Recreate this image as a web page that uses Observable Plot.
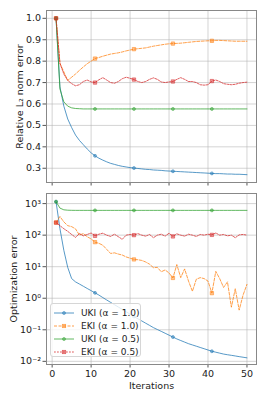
<!DOCTYPE html>
<html><head><meta charset="utf-8">
<script src="https://cdn.jsdelivr.net/npm/d3@7"></script>
<script src="https://cdn.jsdelivr.net/npm/@observablehq/plot@0.6"></script>
<style>
body{margin:0;background:#fff;}
#wrap{position:relative;width:266px;height:399px;font-family:"DejaVu Sans";}
#legend{position:absolute;left:50px;top:303px;width:91px;height:54px;border:1px solid #d6d6d6;border-radius:3px;background:rgba(255,255,255,0.8);box-sizing:border-box;font-size:9px;color:#222;}
.row{position:absolute;left:3px;height:13px;display:flex;align-items:center;white-space:nowrap;}
.row svg{margin-right:7px;}
</style>
</head><body>
<div id="wrap"></div>
<script>
const iterations = [1,2,3,4,5,6,7,8,9,10,11,12,13,14,15,16,17,18,19,20,21,22,23,24,25,26,27,28,29,30,31,32,33,34,35,36,37,38,39,40,41,42,43,44,45,46,47,48,49,50];

// Relative L2 norm error
const ukiA1Rel = [1.0,0.68,0.59,0.53,0.49,0.455,0.43,0.41,0.39,0.372,0.358,0.347,0.338,0.33,0.323,0.318,0.313,0.309,0.306,0.303,0.301,0.299,0.297,0.295,0.294,0.292,0.291,0.29,0.288,0.287,0.286,0.285,0.284,0.283,0.282,0.281,0.28,0.279,0.278,0.277,0.276,0.275,0.275,0.274,0.273,0.273,0.272,0.272,0.271,0.27];
const ekiA1Rel = [1.0,0.79,0.75,0.71,0.725,0.74,0.757,0.773,0.788,0.80,0.812,0.817,0.823,0.828,0.833,0.836,0.839,0.843,0.848,0.852,0.856,0.858,0.860,0.862,0.866,0.870,0.873,0.876,0.879,0.881,0.882,0.883,0.884,0.886,0.888,0.890,0.892,0.893,0.894,0.895,0.895,0.897,0.897,0.896,0.895,0.894,0.893,0.893,0.893,0.893];
const ukiA05Rel = [1.0,0.67,0.61,0.59,0.582,0.579,0.578,0.577,0.577,0.577,0.577,0.577,0.577,0.577,0.577,0.577,0.577,0.577,0.577,0.577,0.577,0.577,0.577,0.577,0.577,0.577,0.577,0.577,0.577,0.577,0.577,0.577,0.577,0.577,0.577,0.577,0.577,0.577,0.577,0.577,0.577,0.577,0.577,0.577,0.577,0.577,0.577,0.577,0.577,0.577];
const ekiA05Rel = [1.0,0.79,0.74,0.71,0.695,0.685,0.69,0.705,0.712,0.703,0.70,0.713,0.723,0.712,0.70,0.697,0.705,0.718,0.725,0.72,0.714,0.705,0.70,0.705,0.715,0.722,0.715,0.703,0.70,0.703,0.705,0.715,0.723,0.715,0.705,0.705,0.70,0.69,0.688,0.69,0.707,0.712,0.705,0.695,0.692,0.69,0.692,0.697,0.70,0.702];

// Optimization error
const ukiA1Opt = [1150,160,33,9.5,4.2,3.3,2.82,2.40,2.04,1.74,1.48,1.26,1.05,0.881,0.741,0.624,0.525,0.442,0.372,0.313,0.263,0.224,0.191,0.162,0.138,0.117,0.102,0.0891,0.0776,0.0676,0.0589,0.0513,0.0457,0.0407,0.0363,0.0331,0.0302,0.0275,0.0251,0.0229,0.0209,0.0195,0.0182,0.0170,0.0162,0.0155,0.0148,0.0141,0.0135,0.0129];
const ekiA1Opt = [251,389,263,200,186,158,100,112,89,76,60,55,48,35.5,26.3,27.5,25.1,23.4,20.4,18.6,17,16.6,15.8,14.1,12,9.3,9.5,6.9,7.9,6.3,4.4,11.7,4.5,8.5,3.5,1.66,4.0,4.5,4.2,3.5,1.45,7.1,4.2,2.2,3.3,0.52,2.0,0.42,1.26,2.75];
const ukiA05Opt = [1150,720,635,618,612,610,610,610,610,610,610,610,610,610,610,610,610,610,610,610,610,610,610,610,610,610,610,610,610,610,610,610,610,610,610,610,610,610,610,610,610,610,610,610,610,610,610,610,610,610];
const ekiA05Opt = [250,200,160,132,105,85,112,95,105,117,95,107,115,100,91,107,89,74,100,105,100,112,100,93,105,83,100,107,93,115,91,110,100,93,107,100,91,105,100,107,102,117,100,105,95,100,83,102,105,100];

const seriesNames = ["UKI (α = 1.0)","EKI (α = 1.0)","UKI (α = 0.5)","EKI (α = 0.5)"];
const seriesColors = ["#1f77b4","#ff7f0e","#2ca02c","#d62728"];
const seriesDash = [null,"3,1.5",null,"1.8,1.2"];
const seriesSymbols = ["circle","square","circle","square"];

const xTicks = [0,10,20,30,40,50];
const relTicks = [0.3,0.4,0.5,0.6,0.7,0.8,0.9,1.0];
const optTicks = [0.01,0.1,1,10,100,1000];
const optTickLabels = ["10⁻²","10⁻¹","10⁰","10¹","10²","10³"];

function rows(arrays){
  const out = [];
  arrays.forEach((arr,s)=>arr.forEach((v,i)=>out.push({it:iterations[i], v, s})));
  return out;
}
const relData = rows([ukiA1Rel,ekiA1Rel,ukiA05Rel,ekiA05Rel]);
const optData = rows([ukiA1Opt,ekiA1Opt,ukiA05Opt,ekiA05Opt]);

function seriesMarks(data){
  const marks = [];
  for (let s=0;s<4;s++){
    const d = data.filter(r=>r.s===s);
    marks.push(Plot.line(d,{x:"it",y:"v",stroke:seriesColors[s],strokeWidth:1,strokeOpacity:0.75,strokeDasharray:seriesDash[s]}));
    marks.push(Plot.dot(d.filter(r=>r.it%10===1),{x:"it",y:"v",symbol:seriesSymbols[s],r:seriesSymbols[s]==="square"?1.9:1.5,fill:seriesColors[s],fillOpacity:0.45,stroke:seriesColors[s],strokeOpacity:0.7,strokeWidth:0.7}));
  }
  return marks;
}

const style = {fontFamily:"DejaVu Sans",fontSize:"9px",color:"#222",background:"transparent",overflow:"visible"};
const gridOpts = {stroke:"#b0b0b0",strokeOpacity:0.55,strokeWidth:1};

const topPlot = Plot.plot({
  width:266,height:190,marginLeft:46,marginRight:10,marginTop:10,marginBottom:8,
  style,
  x:{domain:[-1.45,52.45]},
  y:{domain:[0.2335,1.0365]},
  marks:[
    Plot.gridX(xTicks,gridOpts),
    Plot.gridY(relTicks,gridOpts),
    Plot.axisX(xTicks,{tickFormat:()=>"",tickSize:3.5,label:null,stroke:"#555"}),
    Plot.axisY(relTicks,{tickFormat:d3.format(".1f"),tickSize:3.5,tickPadding:2,stroke:"#555",fontSize:9.5,label:"Relative L₂ norm error",labelAnchor:"center",labelArrow:"none",labelOffset:30}),
    ...seriesMarks(relData),
    Plot.frame({stroke:"#888"})
  ]
});

const bottomPlot = Plot.plot({
  width:266,height:209,marginLeft:46,marginRight:10,marginTop:3,marginBottom:35,
  style,
  x:{domain:[-1.45,52.45]},
  y:{type:"log",domain:[0.00794,2089]},
  marks:[
    Plot.gridX(xTicks,gridOpts),
    Plot.gridY(optTicks,gridOpts),
    Plot.axisX(xTicks,{tickSize:3.5,tickPadding:2,stroke:"#555",fontSize:9.5,label:"Iterations",labelAnchor:"center",labelArrow:"none",labelOffset:24}),
    Plot.axisY(optTicks,{tickFormat:(d)=>optTickLabels[optTicks.indexOf(d)],tickSize:3.5,tickPadding:2,stroke:"#555",fontSize:9.5,label:"Optimization error",labelAnchor:"center",labelArrow:"none",labelOffset:36}),
    ...seriesMarks(optData),
    Plot.frame({stroke:"#888"})
  ]
});

const wrap = document.getElementById("wrap");
topPlot.style.position="absolute"; topPlot.style.left="0px"; topPlot.style.top="0px";
bottomPlot.style.position="absolute"; bottomPlot.style.left="0px"; bottomPlot.style.top="190px";
wrap.appendChild(topPlot);
wrap.appendChild(bottomPlot);

const legend = document.createElement("div");
legend.id="legend";
seriesNames.forEach((name,s)=>{
  const row = document.createElement("div");
  row.className="row";
  row.style.top=(2+s*13.2)+"px";
  const sym = seriesSymbols[s]==="circle"
    ? `<circle cx="10" cy="5" r="1.5" fill="${seriesColors[s]}" fill-opacity="0.45" stroke="${seriesColors[s]}" stroke-opacity="0.7" stroke-width="0.7"/>`
    : `<rect x="8.3" y="3.3" width="3.4" height="3.4" fill="${seriesColors[s]}" fill-opacity="0.45" stroke="${seriesColors[s]}" stroke-opacity="0.7" stroke-width="0.7"/>`;
  row.innerHTML = `<svg width="20" height="10"><line x1="0" x2="20" y1="5" y2="5" stroke="${seriesColors[s]}" stroke-opacity="0.75" stroke-width="1" ${seriesDash[s]?`stroke-dasharray="${seriesDash[s]}"`:""}/>${sym}</svg><span>${name}</span>`;
  legend.appendChild(row);
});
wrap.appendChild(legend);
</script>
</body></html>
